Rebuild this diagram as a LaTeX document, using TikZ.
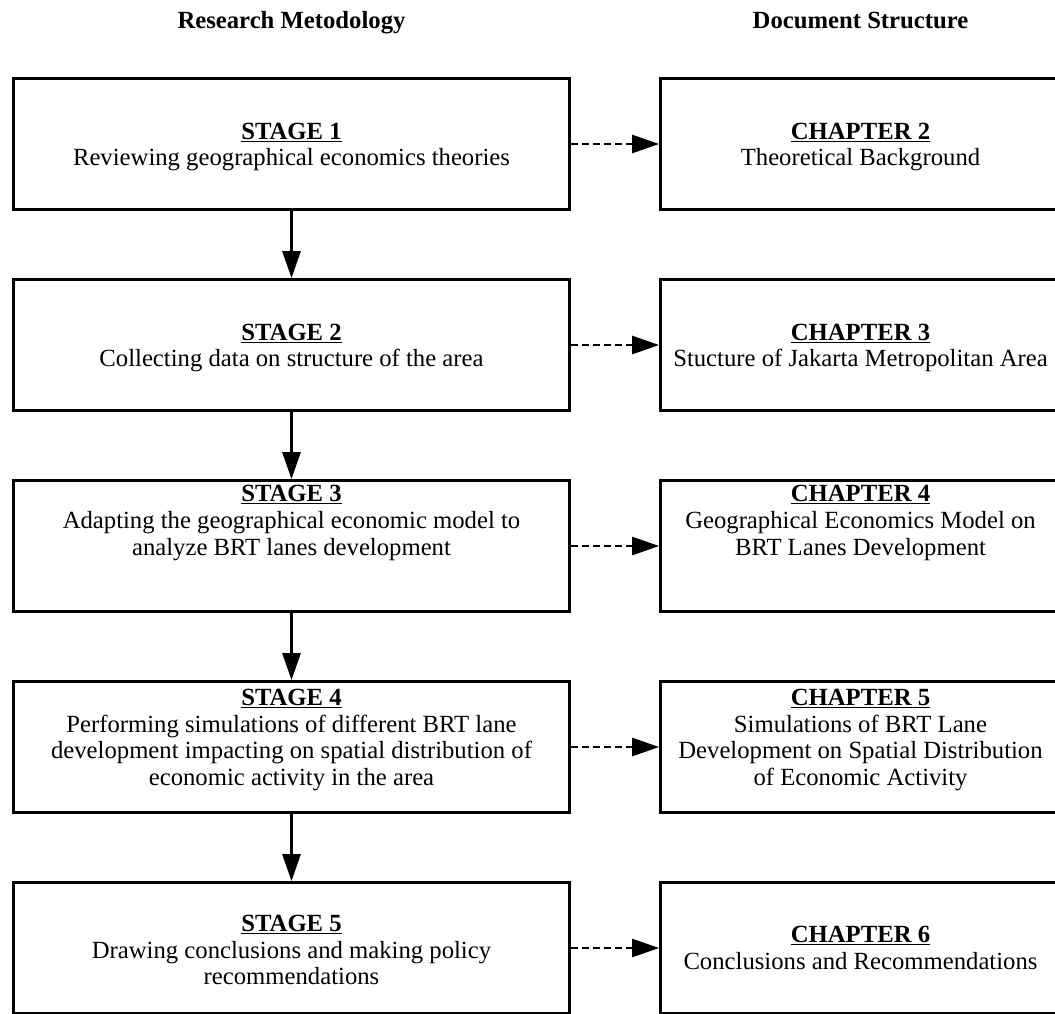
\documentclass[tikz,border=0pt]{standalone}
\usepackage{fontspec}
\setmainfont{Liberation Serif}
\usetikzlibrary{arrows.meta}
\newcommand{\headline}[1]{\underline{\textbf{#1}}}

\begin{document}
\begin{tikzpicture}
[x=1pt,y=-1pt,
  boxdecorate/.style={shape=rectangle,draw,line width=2.8pt,minimum height=131pt,inner sep=0pt},%
  stagedecorate/.style={boxdecorate,minimum width=556pt},%
  chapterdecorate/.style={boxdecorate,minimum width=400pt},%
  textdecorate/.style={align=center,inner sep=0pt,font=\fontsize{24.7}{26.8}\selectfont},%
  titledecorate/.style={inner sep=0pt,anchor=base,font=\fontsize{24.7}{26.8}\selectfont\bfseries},%
  linedecorate/.style={line width=2.8pt,-{Triangle[length=27pt,width=18pt]}},%
  dashdecorate/.style={linedecorate,dash pattern=on 7pt off 4pt}]
\useasboundingbox (0,0) rectangle (1055,1013);
\clip (0,0) rectangle (1055,1013);
%% column titles
\node (methodtitle) at (291.5,28) [titledecorate] {Research Metodology};
\node (structtitle) at (860.5,28) [titledecorate] {Document Structure};
%% boxes
\foreach \nodename/\x/\y/\boxstyle in {
  %% research stages
  s1/291.5/144/stagedecorate, s2/291.5/345/stagedecorate,
  s3/291.5/546/stagedecorate, s4/291.5/747/stagedecorate,
  s5/291.5/948/stagedecorate,
  %% chapters
  c2/860.5/144/chapterdecorate, c3/860.5/345/chapterdecorate,
  c4/860.5/546/chapterdecorate, c5/860.5/747/chapterdecorate,
  c6/860.5/948/chapterdecorate}
{
  \node (\nodename) at (\x,\y) [\boxstyle] {};
}
%% box texts
\foreach \nodename/\x/\y/\boxtext in {
  t1/291.5/147/{\headline{STAGE 1}\\Reviewing geographical economics theories},
  t2/291.5/348/{\headline{STAGE 2}\\Collecting data on structure of the area},
  t3/291.5/523/{\headline{STAGE 3}\\Adapting the geographical economic model to\\analyze BRT lanes development},
  t4/291.5/740/{\headline{STAGE 4}\\Performing simulations of different BRT lane\\development impacting on spatial distribution of\\economic activity in the area},
  t5/291.5/950/{\headline{STAGE 5}\\Drawing conclusions and making policy\\recommendations},
  h2/860.5/147/{\headline{CHAPTER 2}\\Theoretical Background},
  h3/860.5/348/{\headline{CHAPTER 3}\\Stucture of Jakarta Metropolitan Area},
  h4/860.5/523/{\headline{CHAPTER 4}\\Geographical Economics Model on\\BRT Lanes Development},
  h5/860.5/740/{\headline{CHAPTER 5}\\Simulations of BRT Lane\\Development on Spatial Distribution\\of Economic Activity},
  h6/860.5/948/{\headline{CHAPTER 6}\\Conclusions and Recommendations}}
{
  \node (\nodename) at (\x,\y) [textdecorate] {\boxtext};
}
%% stage order
\foreach \startnode/\endnode in {s1/s2, s2/s3, s3/s4, s4/s5}
{
  \draw[linedecorate] (\startnode) -- (\endnode);
}
%% stage to chapter
\foreach \startnode/\endnode in {s1/c2, s2/c3, s3/c4, s4/c5, s5/c6}
{
  \draw[dashdecorate] (\startnode) -- (\endnode);
}
\end{tikzpicture}
\end{document}
